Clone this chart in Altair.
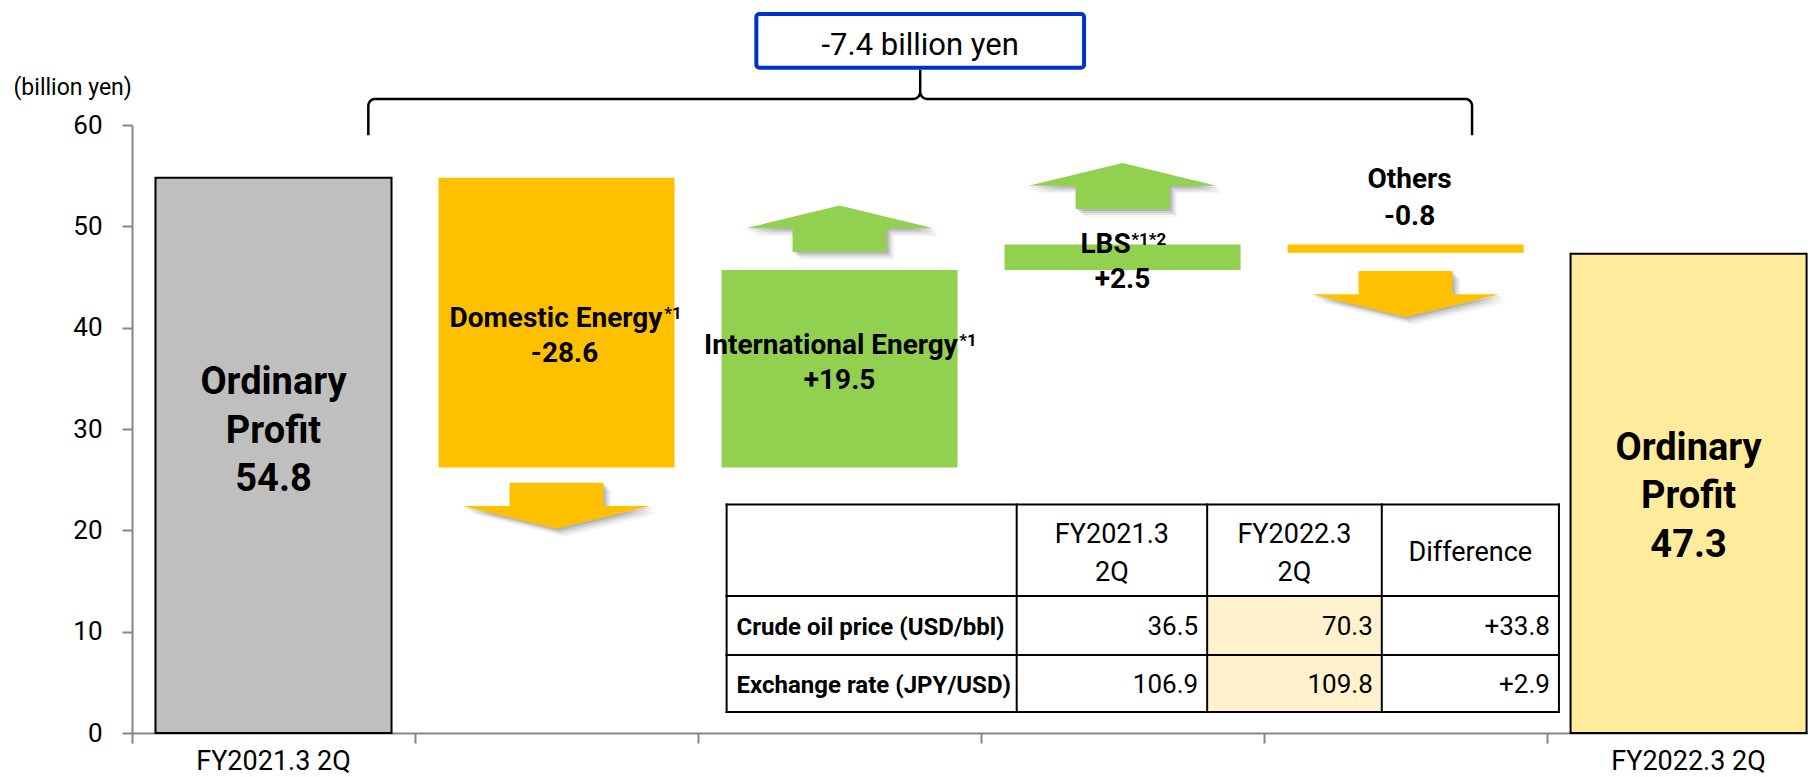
import math
import altair as alt
import pandas as pd

# ---------------- data ----------------
categories = ["FY2021.3 2Q", "Domestic Energy", "International Energy", "LBS", "Others", "FY2022.3 2Q"]
start_value = 54.8
delta_values = [-28.6, 19.5, 2.5, -0.8]
delta_notes = ["*1", "*1", "*1*2", ""]
end_value = 47.3
profit_words = ["Ordinary", "Profit"]
y_ticks = [0, 10, 20, 30, 40, 50, 60]
y_unit = "(billion yen)"

table_headers = [["FY2021.3", "2Q"], ["FY2022.3", "2Q"], ["Difference"]]
table_rows = ["Crude oil price (USD/bbl)", "Exchange rate (JPY/USD)"]
prev_values = [36.5, 106.9]
curr_values = [70.3, 109.8]

# ---------------- layout / style ----------------
FONT = "Roboto, sans-serif"
PLOT_W, PLOT_H = 1676, 608
X_MAX = 5.922
Y_MAX = 60
PX_X = PLOT_W / X_MAX
PX_Y = PLOT_H / Y_MAX


def ux(p):
    return p / PX_X


def uy(p):
    return p / PX_Y


GRAY = "#BFBFBF"
ORANGE = "#FFC000"
GREEN = "#92D050"
FINAL = "#FFEB9C"
BLUE = "#0033CC"
HILITE = "#FFF2CC"
AXIS = "#878787"

BAR_HALF = 0.417
ARROW_GAP = {1: 1.5, 2: 1.8, 3: 3.5, 4: 1.8}
SHAFT_LEN, HEAD_LEN = 2.3, 2.25
SHAFT_HALF, HEAD_HALF = 0.166, 0.332
LABEL_LINE1 = {1: 40.1, 2: 37.4, 3: 47.35, 4: 53.8}
LABEL_GAP = {1: 3.5, 2: 3.45, 3: 3.45, 4: 3.7}
LABEL_DX = {1: 8, 2: 0, 3: 0, 4: 4}
PROFIT_MID = {0: 28.63, 5: 22.18}
PROFIT_LINE = 4.78
LBL = 28
SUP = 17
PROF = 38

# approximate Roboto Bold advance widths (em)
RB = {' ': .248, '*': .44, '1': .562, '2': .562, 'D': .655, 'o': .572, 'm': .885, 'e': .540,
      's': .528, 't': .340, 'i': .260, 'c': .532, 'E': .568, 'n': .565, 'r': .355, 'g': .570,
      'y': .497, 'I': .285, 'a': .547, 'l': .260, 'L': .538, 'B': .633, 'S': .604, 'O': .690,
      'h': .565}


def text_w(s, size):
    return sum(RB.get(ch, 0.56) for ch in s) * size


x_scale = alt.Scale(domain=[0, X_MAX], nice=False, zero=False)
y_scale = alt.Scale(domain=[0, Y_MAX], nice=False, zero=False)

x_axis = alt.Axis(values=[0, 1, 2, 3, 4, 5], labels=False, title=None, grid=False,
                  tickSize=10, tickWidth=2, tickColor=AXIS, domainColor=AXIS, domainWidth=2)
y_axis = alt.Axis(values=y_ticks, grid=False, tickSize=10, tickWidth=2, tickColor=AXIS,
                  domainColor=AXIS, domainWidth=2, labelFont=FONT, labelFontSize=26,
                  labelColor="black", labelPadding=20, title=y_unit, titleAngle=0,
                  titleX=-119, titleY=-38, titleAlign="left", titleBaseline="middle",
                  titleFont=FONT, titleFontSize=23, titleFontWeight="normal", titleColor="black")


def X(field):
    return alt.X(field, scale=x_scale, axis=x_axis)


def Y(field):
    return alt.Y(field, scale=y_scale, axis=y_axis)


# ---------------- bars ----------------
levels = [start_value]
for d in delta_values:
    levels.append(round(levels[-1] + d, 1))

edge_bars = pd.DataFrame([
    dict(x1=0.5 - BAR_HALF, x2=0.5 + BAR_HALF, y1=0, y2=start_value, fill=GRAY),
    dict(x1=5.5 - BAR_HALF, x2=5.5 + BAR_HALF, y1=0, y2=end_value, fill=FINAL),
])
delta_bars = pd.DataFrame([
    dict(x1=i + 0.5 - BAR_HALF, x2=i + 0.5 + BAR_HALF, y1=levels[i - 1], y2=levels[i],
         fill=ORANGE if d < 0 else GREEN)
    for i, d in enumerate(delta_values, start=1)
])

# ---------------- arrows ----------------
shafts, heads = [], []
for i, d in enumerate(delta_values, start=1):
    c = i + 0.5
    s = 1 if d > 0 else -1
    a = levels[i] + s * ARROW_GAP[i]
    b = a + s * SHAFT_LEN
    tip = b + s * HEAD_LEN
    col = GREEN if d > 0 else ORANGE
    shafts.append(dict(id=i, x1=c - SHAFT_HALF, x2=c + SHAFT_HALF, y1=a, y2=b + s * 0.05, fill=col))
    for xx, yy in [(c - HEAD_HALF, b), (c, tip), (c + HEAD_HALF, b)]:
        heads.append(dict(id=str(i), x=xx, y=b, y2=yy, fill=col))

shadow_shafts, shadow_heads = [], []
for k, (off, op) in enumerate([(2, 0.18), (4, 0.13), (6, 0.09), (8, 0.05)]):
    for r in shafts:
        shadow_shafts.append(dict(x1=r["x1"] + ux(off), x2=r["x2"] + ux(off),
                                  y1=r["y1"] - uy(off), y2=r["y2"] - uy(off), op=op))
    for r in heads:
        shadow_heads.append(dict(id=f"{r['id']}-{k}", x=r["x"] + ux(off),
                                 y=r["y"] - uy(off), y2=r["y2"] - uy(off), op=op))

shafts = pd.DataFrame(shafts)
heads = pd.DataFrame(heads)
shadow_shafts = pd.DataFrame(shadow_shafts)
shadow_heads = pd.DataFrame(shadow_heads)

# ---------------- labels ----------------
delta_main, delta_sup, delta_num = [], [], []
for i, d in enumerate(delta_values, start=1):
    c = i + 0.5 + ux(LABEL_DX[i])
    name = categories[i]
    note = delta_notes[i - 1]
    wm = text_w(name, LBL)
    ws = text_w(note, SUP) if note else 0
    y1 = LABEL_LINE1[i]
    delta_main.append(dict(x=c - ux(ws / 2), y=y1, t=name))
    if note:
        delta_sup.append(dict(x=c - ux(ws / 2) + ux(wm / 2) + ux(1), y=y1 + uy(8), t=note))
    delta_num.append(dict(x=c, y=y1 - LABEL_GAP[i], t=f"{d:+.1f}"))
delta_text = pd.DataFrame(delta_main + delta_num)
delta_sup = pd.DataFrame(delta_sup)

profit_rows = []
for idx, val in [(0, start_value), (5, end_value)]:
    lines = profit_words + [f"{val:.1f}"]
    for j, t in enumerate(lines):
        profit_rows.append(dict(x=idx + 0.5, y=PROFIT_MID[idx] + (1 - j) * PROFIT_LINE, t=t))
profit_text = pd.DataFrame(profit_rows)

xlab = pd.DataFrame([dict(x=0.5, y=-uy(37), t=categories[0]),
                     dict(x=5.5, y=-uy(37), t=categories[-1])])

# ---------------- bracket & total box ----------------
BR_L, BR_R = 0.835, 4.735
BR_C = (BR_L + BR_R) / 2
BR_BOT, BR_LINE, BR_TOP = 59.0, 62.57, 65.45
R = 7  # px radius
pts = [(BR_L, BR_BOT), (BR_L, BR_LINE - uy(R))]
for t in range(1, 9):
    a = math.pi / 2 * t / 8
    pts.append((BR_L + ux(R) - ux(R) * math.cos(a), BR_LINE - uy(R) + uy(R) * math.sin(a)))
for t in range(0, 9):
    a = math.pi / 2 * t / 8
    pts.append((BR_C - ux(R) + ux(R) * math.sin(a), BR_LINE + uy(R) - uy(R) * math.cos(a)))
pts.append((BR_C, BR_TOP))
for t in range(0, 9):
    a = math.pi / 2 * t / 8
    pts.append((BR_C + ux(R) - ux(R) * math.cos(a), BR_LINE + uy(R) - uy(R) * math.sin(a)))
for t in range(0, 9):
    a = math.pi / 2 * t / 8
    pts.append((BR_R - ux(R) + ux(R) * math.sin(a), BR_LINE - uy(R) + uy(R) * math.cos(a)))
pts.append((BR_R, BR_BOT))
bracket = pd.DataFrame([dict(i=k, x=p[0], y=p[1]) for k, p in enumerate(pts)])

total = round(sum(delta_values), 1)
box = pd.DataFrame([dict(x1=BR_C - 0.579, x2=BR_C + 0.579, y1=BR_TOP + uy(2), y2=BR_TOP + uy(2) + 5.3)])
box_text = pd.DataFrame([dict(x=BR_C, y=66.9, t=f"{total:.1f} billion yen")])

# ---------------- table ----------------
TX = [2.101, 3.126, 3.799, 4.416, 5.042]
TY = [22.55, 13.52, 7.70, 2.07]
rules = []
for yy in TY:
    rules.append(dict(x1=TX[0], x2=TX[-1], y1=yy, y2=yy))
for xx in TX:
    rules.append(dict(x1=xx, x2=xx, y1=TY[-1], y2=TY[0]))
rules = pd.DataFrame(rules)
hilite = pd.DataFrame([dict(x1=TX[2], x2=TX[3], y1=TY[1], y2=TY[3])])

head_rows = []
for ci, lines in enumerate(table_headers):
    cx = (TX[ci + 1] + TX[ci + 2]) / 2
    if len(lines) == 2:
        head_rows.append(dict(x=cx, y=18.75, t=lines[0]))
        head_rows.append(dict(x=cx, y=15.0, t=lines[1]))
    else:
        head_rows.append(dict(x=cx, y=16.97, t=lines[0]))
val_rows = []
row_rows = []
for ri, name in enumerate(table_rows):
    mid = (TY[ri + 1] + TY[ri + 2]) / 2
    base = mid - 0.95
    row_rows.append(dict(x=TX[0] + ux(10), y=base, t=name))
    diff = round(curr_values[ri] - prev_values[ri], 1)
    for ci, v in enumerate([f"{prev_values[ri]:.1f}", f"{curr_values[ri]:.1f}", f"{diff:+.1f}"]):
        val_rows.append(dict(x=TX[ci + 2] - ux(9), y=base, t=v))
head_text = pd.DataFrame(head_rows)
val_text = pd.DataFrame(val_rows)
row_text = pd.DataFrame(row_rows)

# ---------------- chart ----------------


def rect_layer(df, **mk):
    return alt.Chart(df).mark_rect(**mk).encode(x=X("x1:Q"), x2="x2:Q", y=Y("y1:Q"), y2="y2:Q")


def text_layer(df, **mk):
    return alt.Chart(df).mark_text(font=FONT, color="black", **mk).encode(
        x=X("x:Q"), y=Y("y:Q"), text="t:N")


edge_layer = alt.Chart(edge_bars).mark_rect(stroke="black", strokeWidth=2).encode(
    x=X("x1:Q"), x2="x2:Q", y=Y("y1:Q"), y2="y2:Q", fill=alt.Fill("fill:N", scale=None))

delta_layer = alt.Chart(delta_bars).mark_rect().encode(
    x=X("x1:Q"), x2="x2:Q", y=Y("y1:Q"), y2="y2:Q", fill=alt.Fill("fill:N", scale=None))

shadow_shaft_layer = alt.Chart(shadow_shafts).mark_rect(color="#404040").encode(
    x=X("x1:Q"), x2="x2:Q", y=Y("y1:Q"), y2="y2:Q",
    opacity=alt.Opacity("op:Q", scale=None))
shadow_head_layer = alt.Chart(shadow_heads).mark_area(color="#404040", interpolate="linear").encode(
    x=X("x:Q"), y=Y("y:Q"), y2="y2:Q",
    detail="id:N", opacity=alt.Opacity("op:Q", scale=None))

shaft_layer = alt.Chart(shafts).mark_rect().encode(
    x=X("x1:Q"), x2="x2:Q", y=Y("y1:Q"), y2="y2:Q", fill=alt.Fill("fill:N", scale=None))
head_layer = alt.Chart(heads).mark_area(interpolate="linear").encode(
    x=X("x:Q"), y=Y("y:Q"), y2="y2:Q",
    detail="id:N", fill=alt.Fill("fill:N", scale=None))

bracket_layer = alt.Chart(bracket).mark_line(color="black", strokeWidth=2.5).encode(
    x=X("x:Q"), y=Y("y:Q"), order="i:Q")

box_layer = rect_layer(box, fill="white", stroke=BLUE, strokeWidth=4, cornerRadius=3)
table_fill = rect_layer(hilite, fill=HILITE)
rule_layer = alt.Chart(rules).mark_rule(color="black", strokeWidth=2, strokeCap="square").encode(
    x=X("x1:Q"), x2="x2:Q", y=Y("y1:Q"), y2="y2:Q")

chart = alt.layer(
    edge_layer,
    delta_layer,
    shadow_shaft_layer,
    shadow_head_layer,
    shaft_layer,
    head_layer,
    bracket_layer,
    box_layer,
    table_fill,
    rule_layer,
    text_layer(delta_text, fontSize=LBL, fontWeight="bold", align="center", baseline="alphabetic"),
    text_layer(delta_sup, fontSize=SUP, fontWeight="bold", align="left", baseline="alphabetic"),
    text_layer(profit_text, fontSize=PROF, fontWeight="bold", align="center", baseline="alphabetic"),
    text_layer(xlab, fontSize=27, align="center", baseline="alphabetic"),
    text_layer(box_text, fontSize=31, align="center", baseline="alphabetic"),
    text_layer(head_text, fontSize=27, align="center", baseline="alphabetic"),
    text_layer(val_text, fontSize=26, align="right", baseline="alphabetic"),
    text_layer(row_text, fontSize=24, fontWeight="bold", align="left", baseline="alphabetic"),
).properties(
    width=PLOT_W, height=PLOT_H,
    padding={"left": 124, "top": 117, "right": 0, "bottom": 44},
    autosize=alt.AutoSizeParams(type="none"),
    background="white",
).configure_view(stroke=None)

chart.save("out.html", embed_options={"renderer": "svg", "actions": False})
